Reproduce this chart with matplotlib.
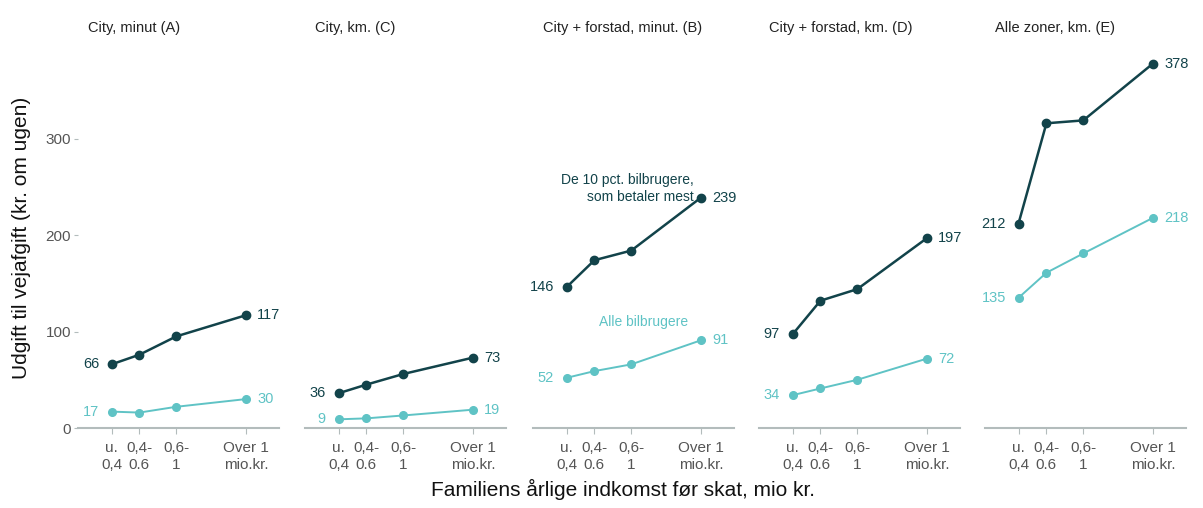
import matplotlib.pyplot as plt

plt.rcParams["font.family"] = ["Liberation Sans", "DejaVu Sans"]

# income groups
income_labels = ["u.\n0,4", "0,4-\n0.6", "0,6-\n1", "Over 1\nmio.kr."]

panel_titles = [
    "City, minut (A)",
    "City, km. (C)",
    "City + forstad, minut. (B)",
    "City + forstad, km. (D)",
    "Alle zoner, km. (E)",
]

# weekly road toll, top 10 pct. of car users
top10 = [
    [66, 76, 95, 117],
    [36, 45, 56, 73],
    [146, 174, 184, 239],
    [97, 132, 144, 197],
    [212, 316, 319, 378],
]

# weekly road toll, all car users
all_users = [
    [17, 16, 22, 30],
    [9, 10, 13, 19],
    [52, 59, 66, 91],
    [34, 41, 50, 72],
    [135, 161, 181, 218],
]

x_pos = [0, 1, 2.32, 4.82]

dark = "#12434a"
light = "#5fc3c5"
axis_grey = "#b3bcbc"
tick_grey = "#555555"

W, H = 1203, 508
fig = plt.figure(figsize=(W / 100, H / 100), dpi=100)

lefts = [78, 305, 533, 759, 985]
ax_w = 201
ax_bottom = 428
ax_top = 50

axes = []
for i, left in enumerate(lefts):
    ax = fig.add_axes([left / W, (H - ax_bottom) / H, ax_w / W, (ax_bottom - ax_top) / H])
    axes.append(ax)

    ax.plot(x_pos, all_users[i], color=light, lw=1.4, marker="o", ms=5.5, zorder=3)
    ax.plot(x_pos, top10[i], color=dark, lw=1.8, marker="o", ms=6, zorder=4)

    # value labels at both ends
    for series, col in [(top10[i], dark), (all_users[i], light)]:
        ax.annotate(str(series[0]), (x_pos[0], series[0]), xytext=(-9, 0),
                    textcoords="offset points", ha="right", va="center",
                    color=col, fontsize=10.5)
        ax.annotate(str(series[-1]), (x_pos[-1], series[-1]), xytext=(8, 0),
                    textcoords="offset points", ha="left", va="center",
                    color=col, fontsize=10.5)

    ax.set_xlim(-1.2, 6.0)
    ax.set_ylim(0, 392)
    ax.set_xticks(x_pos)
    ax.set_xticklabels(income_labels, fontsize=11, color=tick_grey, linespacing=1.3)
    ax.tick_params(axis="x", length=4, width=0.8, color=axis_grey, pad=5)

    for side in ["top", "right", "left"]:
        ax.spines[side].set_visible(False)
    ax.spines["bottom"].set_color(axis_grey)
    ax.spines["bottom"].set_linewidth(1.5)

    if i == 0:
        ax.set_yticks([0, 100, 200, 300])
        ax.tick_params(axis="y", length=3, width=0.8, color=axis_grey,
                       labelsize=11, labelcolor=tick_grey, pad=2)
    else:
        ax.set_yticks([])

    fig.text((left + 10) / W, 1 - 28 / H, panel_titles[i], fontsize=10.5,
             color="#222222", ha="left", va="center")

# series labels in the middle panel
axes[2].text(4.55, 232, "De 10 pct. bilbrugere,\nsom betaler mest", color=dark,
             fontsize=10, ha="right", va="bottom", linespacing=1.3)
axes[2].text(2.75, 110, "Alle bilbrugere", color=light, fontsize=10,
             ha="center", va="center")

fig.text(22 / W, 1 - 238 / H, "Udgift til vejafgift (kr. om ugen)", rotation=90,
         fontsize=15, ha="center", va="center", color="#111111")
fig.text(623 / W, 1 - 489 / H, "Familiens årlige indkomst før skat, mio kr.",
         fontsize=15, ha="center", va="center", color="#111111")

fig.savefig("out.png", dpi=100)
